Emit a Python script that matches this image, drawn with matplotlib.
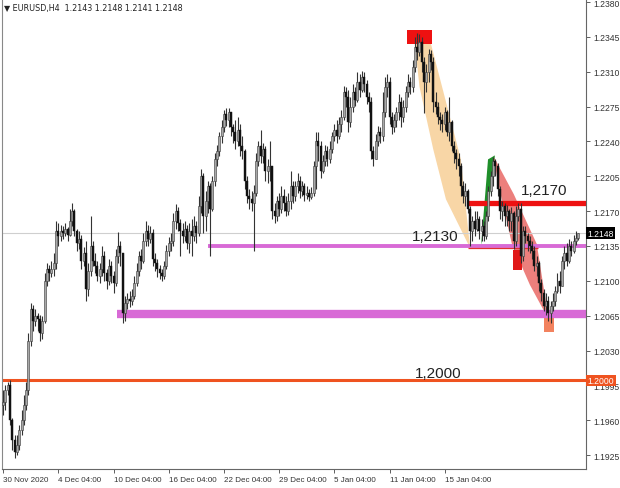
import matplotlib
matplotlib.use("Agg")
import numpy as np
import matplotlib.pyplot as plt
from matplotlib.patches import Polygon, Rectangle

# EURUSD H4 candles, prices in pips (price * 10000)
first_open = 11975
closes = [
    11978, 11990, 11995, 11960, 11940, 11928, 11935, 11950, 11960, 11975, 11990, 12040,
    12072, 12060, 12065, 12062, 12048, 12060, 12100, 12112, 12108, 12112, 12118, 12150,
    12145, 12150, 12148, 12152, 12146, 12160, 12170, 12150, 12138, 12142, 12120, 12128,
    12092, 12110, 12135, 12120, 12115, 12105, 12112, 12125, 12108, 12100, 12115, 12105,
    12098, 12125, 12135, 12128, 12068, 12078, 12082, 12080, 12085, 12098, 12110, 12125,
    12120, 12140, 12150, 12142, 12148, 12122, 12118, 12112, 12108, 12105, 12115, 12130,
    12138, 12140, 12160, 12170, 12158, 12150, 12145, 12152, 12138, 12150, 12145, 12155,
    12148, 12175, 12205, 12165, 12180, 12195, 12172, 12200, 12222, 12230, 12245, 12255,
    12268, 12262, 12270, 12255, 12250, 12240, 12252, 12235, 12230, 12200, 12185, 12182,
    12178, 12188, 12220, 12235, 12225, 12232, 12210, 12215, 12215, 12170, 12165, 12180,
    12172, 12185, 12178, 12170, 12180, 12195, 12185, 12195, 12200, 12190, 12195, 12186,
    12188, 12184, 12188, 12215, 12240, 12235, 12210, 12220, 12230, 12222, 12232, 12245,
    12252, 12245, 12258, 12265, 12290, 12285, 12260, 12275, 12290, 12282, 12300, 12292,
    12305, 12298, 12285, 12280, 12230, 12222, 12240, 12250, 12245, 12270, 12295, 12300,
    12265, 12255, 12262, 12270, 12280, 12265, 12275, 12290, 12300, 12295, 12315, 12335,
    12330, 12340, 12320, 12300, 12310, 12328, 12320, 12280, 12275, 12265, 12262, 12258,
    12270, 12250, 12260, 12235, 12228, 12222, 12215, 12195, 12185, 12190, 12172, 12150,
    12160, 12152, 12162, 12150, 12155, 12145, 12165, 12190, 12205, 12220, 12215, 12192,
    12170, 12175, 12165, 12170, 12160, 12168, 12140, 12165, 12172, 12125, 12150, 12145,
    12140, 12135, 12130, 12115, 12118, 12098, 12088, 12075, 12080, 12068, 12075, 12080,
    12090, 12100, 12095, 12120, 12128, 12120, 12135, 12130, 12140, 12143, 12148,
]
highs = [
    11990, 11995, 11998, 12000, 11962, 11945, 11945, 11955, 11970, 11985, 11998, 12048,
    12078, 12076, 12072, 12068, 12066, 12065, 12108, 12118, 12116, 12120, 12128, 12160,
    12158, 12156, 12155, 12158, 12154, 12172, 12178, 12172, 12152, 12150, 12146, 12134,
    12140, 12118, 12165, 12140, 12128, 12120, 12118, 12135, 12130, 12112, 12122, 12120,
    12110, 12132, 12149, 12140, 12126, 12085, 12088, 12090, 12092, 12105, 12118, 12130,
    12132, 12148, 12160, 12156, 12155, 12152, 12128, 12122, 12116, 12112, 12120, 12136,
    12144, 12148, 12168, 12177, 12174, 12162, 12158, 12160, 12156, 12158, 12162, 12165,
    12160, 12185, 12212, 12208, 12190, 12200, 12198, 12205, 12228, 12236, 12250, 12262,
    12272, 12274, 12274, 12268, 12258, 12262, 12265, 12258, 12245, 12232, 12205, 12192,
    12190, 12196, 12228, 12240, 12252, 12238, 12235, 12222, 12240, 12215, 12178, 12185,
    12188, 12195, 12192, 12185, 12188, 12210, 12200, 12200, 12208, 12205, 12200, 12198,
    12195, 12192, 12194, 12220, 12250, 12250, 12240, 12226, 12236, 12235, 12240, 12250,
    12258, 12262, 12265, 12272, 12296, 12295, 12292, 12285, 12298, 12295, 12310, 12308,
    12311, 12310, 12302, 12290, 12285, 12235, 12248, 12256, 12255, 12290, 12305, 12308,
    12305, 12270, 12268, 12275, 12288, 12285, 12282, 12296, 12308, 12305, 12322, 12345,
    12349, 12348, 12345, 12325, 12318, 12333, 12332, 12325, 12290, 12280, 12270, 12268,
    12275, 12272, 12285, 12262, 12240, 12232, 12228, 12218, 12200, 12198, 12192, 12175,
    12165, 12170, 12170, 12165, 12162, 12160, 12170, 12195, 12210, 12224, 12222, 12218,
    12195, 12180, 12178, 12176, 12172, 12174, 12170, 12175, 12178, 12178, 12155, 12155,
    12148, 12145, 12140, 12135, 12125, 12120, 12102, 12092, 12088, 12085, 12080, 12088,
    12095, 12108, 12110, 12125, 12135, 12138, 12142, 12140, 12146, 12150, 12148,
]
lows = [
    11965, 11970, 11985, 11955, 11930, 11922, 11925, 11930, 11945, 11955, 11970, 11985,
    12035, 12050, 12055, 12050, 12040, 12042, 12058, 12095, 12100, 12104, 12105, 12112,
    12135, 12140, 12142, 12145, 12140, 12145, 12155, 12145, 12130, 12132, 12112, 12115,
    12080, 12085, 12105, 12115, 12108, 12100, 12098, 12105, 12100, 12092, 12096, 12098,
    12088, 12095, 12118, 12115, 12058, 12060, 12072, 12074, 12076, 12082, 12095, 12105,
    12112, 12118, 12135, 12135, 12138, 12115, 12110, 12104, 12102, 12100, 12102, 12112,
    12125, 12130, 12135, 12152, 12150, 12125, 12138, 12140, 12132, 12128, 12125, 12140,
    12138, 12145, 12168, 12148, 12150, 12168, 12125, 12170, 12195, 12215, 12225, 12238,
    12250, 12256, 12255, 12245, 12238, 12232, 12235, 12225, 12222, 12192, 12178, 12172,
    12170, 12130, 12185, 12215, 12218, 12218, 12200, 12198, 12200, 12162, 12158, 12160,
    12165, 12168, 12170, 12165, 12166, 12172, 12178, 12180, 12188, 12183, 12185, 12180,
    12182, 12180, 12182, 12185, 12192, 12220, 12203, 12208, 12215, 12215, 12218, 12228,
    12240, 12238, 12242, 12250, 12262, 12275, 12250, 12255, 12270, 12276, 12280, 12285,
    12290, 12290, 12278, 12270, 12222, 12215, 12222, 12235, 12238, 12240, 12265, 12285,
    12258, 12248, 12250, 12255, 12262, 12255, 12260, 12270, 12285, 12288, 12290, 12310,
    12322, 12326, 12310, 12269, 12290, 12300, 12312, 12270, 12268, 12258, 12252, 12250,
    12252, 12245, 12240, 12230, 12218, 12212, 12205, 12185, 12178, 12175, 12168, 12135,
    12140, 12145, 12150, 12142, 12140, 12140, 12142, 12160, 12185, 12195, 12205, 12185,
    12162, 12160, 12155, 12155, 12150, 12150, 12132, 12135, 12160, 12118, 12120, 12138,
    12130, 12128, 12122, 12110, 12105, 12090, 12080, 12070, 12066, 12060, 12058, 12070,
    12075, 12088, 12088, 12095, 12112, 12115, 12118, 12125, 12128, 12136, 12141,
]

date_labels = ["30 Nov 2020", "4 Dec 04:00", "10 Dec 04:00", "16 Dec 04:00", "22 Dec 04:00",
               "29 Dec 04:00", "5 Jan 04:00", "11 Jan 04:00", "15 Jan 04:00"]
date_bars = [0, 24, 48, 72, 96, 120, 144, 168, 192]
price_ticks = [1.1925, 1.1960, 1.1995, 1.2030, 1.2065, 1.2100, 1.2135, 1.2170,
               1.2205, 1.2240, 1.2275, 1.2310, 1.2345, 1.2380]

# drawn levels: (price, start bar, colour, width)
levels = [
    (1.2135, 89.1, "#d86ad6", 2.8),
    (1.2067, 49.5, "#d86ad6", 6.0),
    (1.2000, -0.5, "#ef5320", 2.2),
    (1.2178, 201.7, "#ee1111", 3.8),
]
peach_shape = [(179.0, 1.2338), (186.0, 1.2338), (199.0, 1.2222), (203.0, 1.2133),
               (192.5, 1.2182), (187.0, 1.2232), (181.0, 1.2295)]
green_shape = [(207.8, 1.2136), (210.8, 1.2222), (213.8, 1.2226), (210.2, 1.2160)]
salmon_shape = [(213.0, 1.2226), (222.0, 1.2187), (232.0, 1.2137), (237.2, 1.2061),
                (229.0, 1.2096), (221.2, 1.2137), (215.8, 1.2192)]
bid = 1.2148

o = np.array([first_open] + closes[:-1]) / 10000
c = np.array(closes) / 10000
h = np.maximum(np.array(highs) / 10000, np.maximum(o, c))
l = np.minimum(np.array(lows) / 10000, np.minimum(o, c))
x = np.arange(len(c))

fig = plt.figure(figsize=(6.2, 4.89), dpi=100)
ax = fig.add_axes([2 / 620, 19 / 489, 584 / 620, 469 / 489])
ymin, ymax = 1.19110, 1.23821
ax.set_xlim(-0.5, 253.4)
ax.set_ylim(ymin, ymax)

# overlays behind candles
ax.add_patch(Polygon(peach_shape, closed=True, fc="#f8d6a6", ec="none", zorder=1))
ax.add_patch(Polygon(salmon_shape, closed=True, fc="#ec7f7c", ec="none", zorder=1))
ax.add_patch(Polygon(green_shape, closed=True, fc="#1f8f2a", ec="none", zorder=1))
ax.add_patch(Rectangle((175.6, 1.2338), 10.9, 0.0014, fc="#ee1111", ec="none", zorder=1))
ax.add_patch(Rectangle((221.7, 1.2111), 3.9, 0.0020, fc="#e01818", ec="none", zorder=1))
ax.add_patch(Rectangle((235.2, 1.2049), 4.3, 0.0014, fc="#f2825e", ec="none", zorder=1))

ax.axhline(bid, color="#cfcfcf", lw=0.8, zorder=1)
for price, start, col, lw in levels:
    ax.hlines(price, start, 253.4, color=col, lw=lw, zorder=2)
ax.hlines(1.2133, 202.1, 232.5, color="#e03030", lw=0.9, zorder=2)

# candles
up = c >= o
ax.vlines(x, l, h, color="#333333", lw=0.8, zorder=3)
body = np.maximum(np.abs(c - o), 0.00006)
ax.bar(x[up], body[up], 0.85, np.minimum(o, c)[up], color="#a8a8a8",
       edgecolor="#3a3a3a", lw=0.4, zorder=4)
ax.bar(x[~up], body[~up], 0.85, np.minimum(o, c)[~up], color="#111111",
       edgecolor="#111111", lw=0.3, zorder=4)

ax.text(187.8, 1.2145, "1,2130", fontsize=11, family="Liberation Sans",
        ha="center", va="center", color="#222222", zorder=5)
ax.text(235.2, 1.2191, "1,2170", fontsize=11, family="Liberation Sans",
        ha="center", va="center", color="#222222", zorder=5)
ax.text(189.1, 1.2007, "1,2000", fontsize=11, family="Liberation Sans",
        ha="center", va="center", color="#222222", zorder=5)

# axes styling (MT4 look)
ax.spines["top"].set_visible(False)
ax.spines["left"].set_color("#888888")
ax.spines["right"].set_color("#666666")
ax.spines["bottom"].set_color("#666666")
ax.yaxis.tick_right()
ax.set_yticks(price_ticks)
ax.set_yticklabels([f"{p:.4f}" for p in price_ticks])
ax.set_xticks(date_bars)
ax.set_xticklabels(date_labels, ha="left")
ax.tick_params(axis="y", labelsize=6.2, colors="#444444", length=3, width=0.6, pad=2)
ax.tick_params(axis="x", labelsize=5.8, colors="#444444", length=3, width=0.6, pad=2)
for t in ax.get_xticklabels() + ax.get_yticklabels():
    t.set_family("Liberation Sans")
    t.set_color("#333333")

# price boxes on the right scale
ax.text(1.003, (bid - ymin) / (ymax - ymin), f"{bid:.4f}", transform=ax.transAxes,
        fontsize=6.2, family="Liberation Sans", color="white", va="center", ha="left",
        bbox=dict(boxstyle="square,pad=0.15", fc="black", ec="none"), zorder=6)
ax.text(1.003, (1.2000 - ymin) / (ymax - ymin), "1.2000", transform=ax.transAxes,
        fontsize=6.2, family="Liberation Sans", color="white", va="center", ha="left",
        bbox=dict(boxstyle="square,pad=0.15", fc="#ef5320", ec="none"), zorder=6)

fig.text(4 / 620, 1 - 8 / 489, "\u25bc EURUSD,H4  1.2143 1.2148 1.2141 1.2148",
         fontsize=5.8, family="DejaVu Sans", color="#222222", va="center", ha="left")

fig.savefig("out.png", dpi=100)
